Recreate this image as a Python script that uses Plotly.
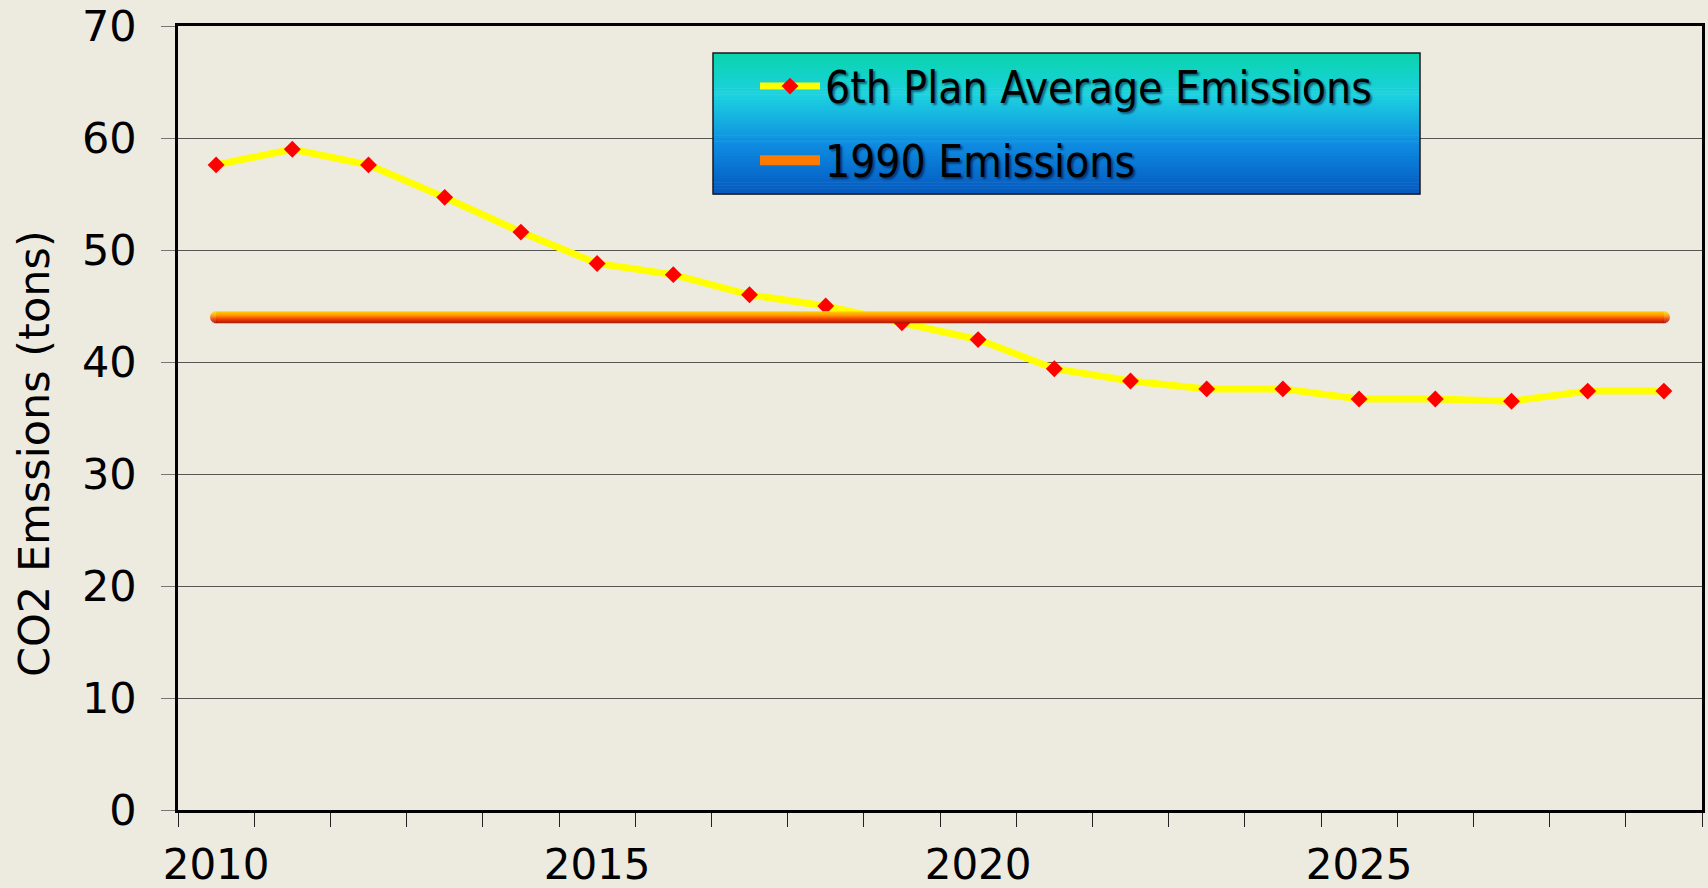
import math
import plotly.graph_objects as go

years = list(range(2010, 2030))
plan_avg = [57.6, 59.0, 57.6, 54.7, 51.6, 48.8, 47.8, 46.0, 45.0, 43.5,
            42.0, 39.4, 38.3, 37.6, 37.6, 36.7, 36.7, 36.5, 37.4, 37.4]
emis_1990 = [44.0] * len(years)
label_years = [2010, 2015, 2020, 2025]
y_ticks = [0, 10, 20, 30, 40, 50, 60, 70]

W, H = 1708, 888
ML, MR, MT, MB = 178, 6, 26, 78
PW, PH = W - ML - MR, H - MT - MB

BG = "#EDEAE0"
AXFONT = dict(family="DejaVu Sans", size=43, color="black")
XFONT = dict(family="DejaVu Sans", size=42, color="black")


def px_x(p):
    return (p - ML) / PW


def px_y(p):
    return (H - MB - p) / PH


def lerp(stops, t):
    for i in range(len(stops) - 1):
        t0, c0 = stops[i]
        t1, c1 = stops[i + 1]
        if t <= t1:
            f = (t - t0) / (t1 - t0) if t1 > t0 else 0
            return "rgb(%d,%d,%d)" % tuple(round(c0[k] + (c1[k] - c0[k]) * f) for k in range(3))
    return "rgb(%d,%d,%d)" % stops[-1][1]


fig = go.Figure()

fig.add_trace(go.Scatter(
    x=years, y=plan_avg, name="6th Plan Average Emissions", mode="lines+markers",
    line=dict(color="#FFFF00", width=7),
    marker=dict(symbol="diamond", color="#FF0000", size=13, line=dict(width=0)),
    legendgroup="a",
))
fig.add_trace(go.Scatter(
    x=years, y=emis_1990, name="1990 Emissions", mode="lines",
    line=dict(color="#FF7A00", width=11),
    legendgroup="b",
))

shapes = []
# legend gradient box
lx0, lx1, ly0, ly1 = 713, 1420, 53, 194
gstops = [(0.0, (9, 211, 172)), (0.3, (28, 210, 224)), (0.65, (14, 140, 225)), (1.0, (4, 88, 190))]
nb = 48
for i in range(nb):
    t = (i + 0.5) / nb
    ya = ly0 + (ly1 - ly0) * i / nb
    yb = ly0 + (ly1 - ly0) * (i + 1) / nb
    shapes.append(dict(type="rect", xref="paper", yref="paper", layer="above",
                       x0=px_x(lx0), x1=px_x(lx1), y0=px_y(yb + 0.6), y1=px_y(ya),
                       line=dict(width=0), fillcolor=lerp(gstops, t)))
shapes.append(dict(type="rect", xref="paper", yref="paper", layer="above",
                   x0=px_x(lx0), x1=px_x(lx1), y0=px_y(ly1), y1=px_y(ly0),
                   line=dict(width=1.5, color="#1a1a1a"), fillcolor="rgba(0,0,0,0)"))

# 1990 line gradient bands (vertical gradient, yellow top -> red bottom) with rounded caps
lstops = [(0.0, (255, 236, 0)), (0.35, (255, 160, 0)), (0.7, (240, 40, 0)), (1.0, (150, 0, 0))]
thick = 12
r = thick / 2
for i in range(thick):
    t = (i + 0.5) / thick
    col = lerp(lstops, t)
    y_hi, y_lo = r - i, r - i - 1
    dy = (y_hi + y_lo) / 2
    cap = math.sqrt(max(r * r - dy * dy, 0))
    shapes.append(dict(type="rect", xref="x", yref="y", layer="above",
                       x0=years[0], x1=years[-1], ysizemode="pixel", yanchor=emis_1990[0],
                       y0=y_lo, y1=y_hi, line=dict(width=0), fillcolor=col))
    for xa, a0, a1 in ((years[0], -cap, 0.5), (years[-1], -0.5, cap)):
        shapes.append(dict(type="rect", xref="x", yref="y", layer="above",
                           xsizemode="pixel", xanchor=xa, x0=a0, x1=a1,
                           ysizemode="pixel", yanchor=emis_1990[0],
                           y0=y_lo, y1=y_hi, line=dict(width=0), fillcolor=col))

fig.update_layout(
    width=W, height=H,
    paper_bgcolor=BG, plot_bgcolor=BG,
    margin=dict(l=ML, r=MR, t=MT, b=MB, pad=0, autoexpand=False),
    showlegend=True,
    legend=dict(
        x=px_x(lx0 + 42), y=px_y(ly0 - 2), xanchor="left", yanchor="top",
        bgcolor="rgba(0,0,0,0)", borderwidth=0,
        font=dict(family="DejaVu Sans Condensed, DejaVu Sans", size=44, color="black",
                  shadow="2px 2px 2px rgba(0,0,40,0.5)"),
        itemwidth=60, tracegroupgap=14, traceorder="grouped",
    ),
    shapes=shapes,
    annotations=[dict(text="CO2 Emssions (tons)", xref="paper", yref="paper",
                      x=px_x(34), y=px_y(454), xanchor="center", yanchor="middle",
                      textangle=-90, showarrow=False, font=AXFONT)],
)

fig.update_xaxes(
    range=[years[0] - 0.5, years[-1] + 0.5], automargin=False,
    tickvals=label_years, ticktext=[str(v) for v in label_years],
    ticks="outside", ticklen=16, tickcolor="rgba(0,0,0,0)",
    tickfont=XFONT, showgrid=False, zeroline=False,
    showline=True, linecolor="black", linewidth=2.5, mirror=True,
    minor=dict(tick0=years[0] - 0.5, dtick=1, ticks="outside", ticklen=14,
               tickcolor="#222", tickwidth=1, showgrid=False),
)
fig.update_yaxes(
    range=[0, 70], tickvals=y_ticks, automargin=False,
    ticks="outside", ticklen=14, tickcolor="#777", tickwidth=1,
    tickfont=AXFONT, ticklabelstandoff=16,
    showgrid=True, gridcolor="#555", gridwidth=1, zeroline=False,
    showline=True, linecolor="black", linewidth=2.5, mirror=True,
)

fig.write_html(
    "out.html",
    config={"displayModeBar": False},
    post_script="document.body.style.margin='0';document.body.style.overflow='hidden';"
                "document.body.style.background='" + BG + "';",
)
